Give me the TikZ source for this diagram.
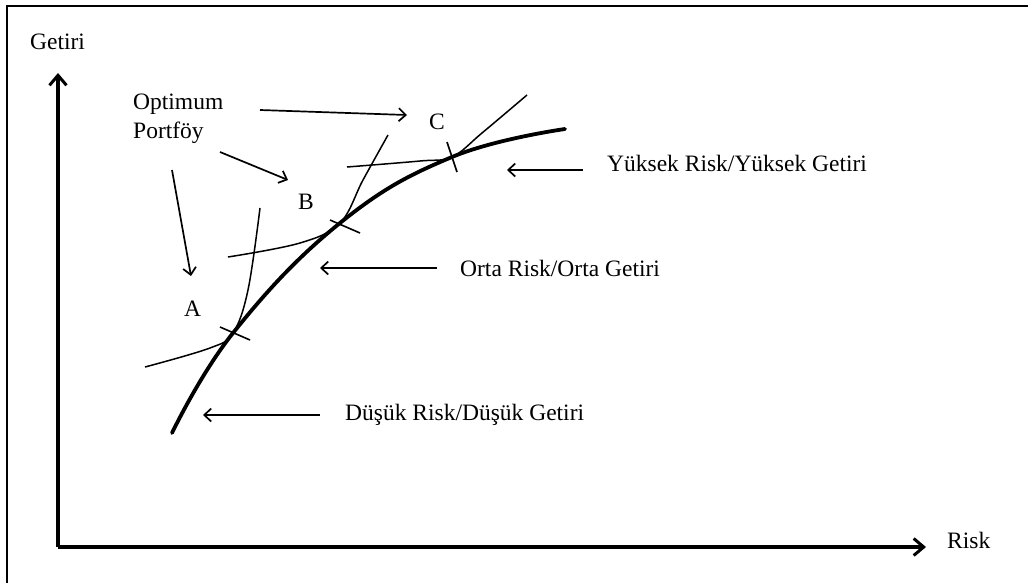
\documentclass[tikz,border=0pt]{standalone}
\usepackage{fontspec}
\setmainfont{Liberation Serif}
\usetikzlibrary{arrows.meta}
\tikzset{
  lbl/.style={anchor=west, inner sep=0pt, font=\fontsize{23.5}{27}\selectfont, text=black},
  thinarrow/.style={line width=1.7pt, -{Straight Barb[length=7pt,width=13pt]}},
  axisarrow/.style={line width=3.6pt, -{Straight Barb[length=10pt,width=17pt,line width=3pt]}},
  indiff/.style={line width=1.5pt},
  frontier/.style={line width=3.8pt, line cap=round},
  tickmark/.style={line width=1.6pt}
}
\begin{document}
\begin{tikzpicture}[x=1pt,y=-1pt]
\useasboundingbox (0,0) rectangle (1028,582);
\fill[white] (0,0) rectangle (1028,582);
% frame (left and top edges visible)
\draw[line width=1.8pt] (7,585) -- (7,6) -- (1032,6);
% axes
\coordinate (O) at (58,547);
\coordinate (ytip) at (58,73);
\coordinate (xtip) at (926,547);
\draw[axisarrow] (O) -- (ytip);
\draw[axisarrow] (O) -- (xtip);
\node[lbl] (getiri) at (30,42) {Getiri};
\node[lbl] (risk) at (947,540) {Risk};
% labels
\node[lbl] (opt) at (133,104) {Optimum};
\node[lbl] (port) at (133,133) {Portföy};
\node[lbl] (A) at (184,309) {A};
\node[lbl] (B) at (298,202) {B};
\node[lbl] (C) at (429,122) {C};
\node[lbl] (yuksek) at (607,163) {Yüksek Risk/Yüksek Getiri};
\node[lbl] (orta) at (460,268) {Orta Risk/Orta Getiri};
\node[lbl] (dusuk) at (345,415) {Düşük Risk/Düşük Getiri};
% efficient frontier
\draw[frontier] plot[smooth, tension=0.7] coordinates {(172,433) (233,333) (340,223) (452,157) (565,129)};
% indifference curves
\draw[indiff] plot[smooth, tension=0.6] coordinates {(145,367) (210,348) (233,333) (248,290) (260,208)};
\draw[indiff] plot[smooth, tension=0.6] coordinates {(228,257) (300,243) (340,223) (363,180) (388,135)};
\draw[indiff] plot[smooth, tension=0.6] coordinates {(347,167) (420,161) (452,157) (482,133) (527,95)};
% tangency ticks
\coordinate (ta1) at (220,327); \coordinate (ta2) at (250,340);
\coordinate (tb1) at (330,220); \coordinate (tb2) at (360,233);
\coordinate (tc1) at (447,142); \coordinate (tc2) at (457,172);
\draw[tickmark] (ta1) -- (ta2);
\draw[tickmark] (tb1) -- (tb2);
\draw[tickmark] (tc1) -- (tc2);
% pointer arrows
\coordinate (oc1) at (260,110); \coordinate (oc2) at (407,115);
\coordinate (ob1) at (220,152); \coordinate (ob2) at (288,180);
\coordinate (oa1) at (172,170); \coordinate (oa2) at (191,276);
\draw[thinarrow] (oc1) -- (oc2);
\draw[thinarrow] (ob1) -- (ob2);
\draw[thinarrow] (oa1) -- (oa2);
\coordinate (yk1) at (583,170); \coordinate (yk2) at (507,170);
\coordinate (or1) at (437,268); \coordinate (or2) at (320,268);
\coordinate (du1) at (320,415); \coordinate (du2) at (203,415);
\draw[thinarrow] (yk1) -- (yk2);
\draw[thinarrow] (or1) -- (or2);
\draw[thinarrow] (du1) -- (du2);
\end{tikzpicture}
\end{document}
